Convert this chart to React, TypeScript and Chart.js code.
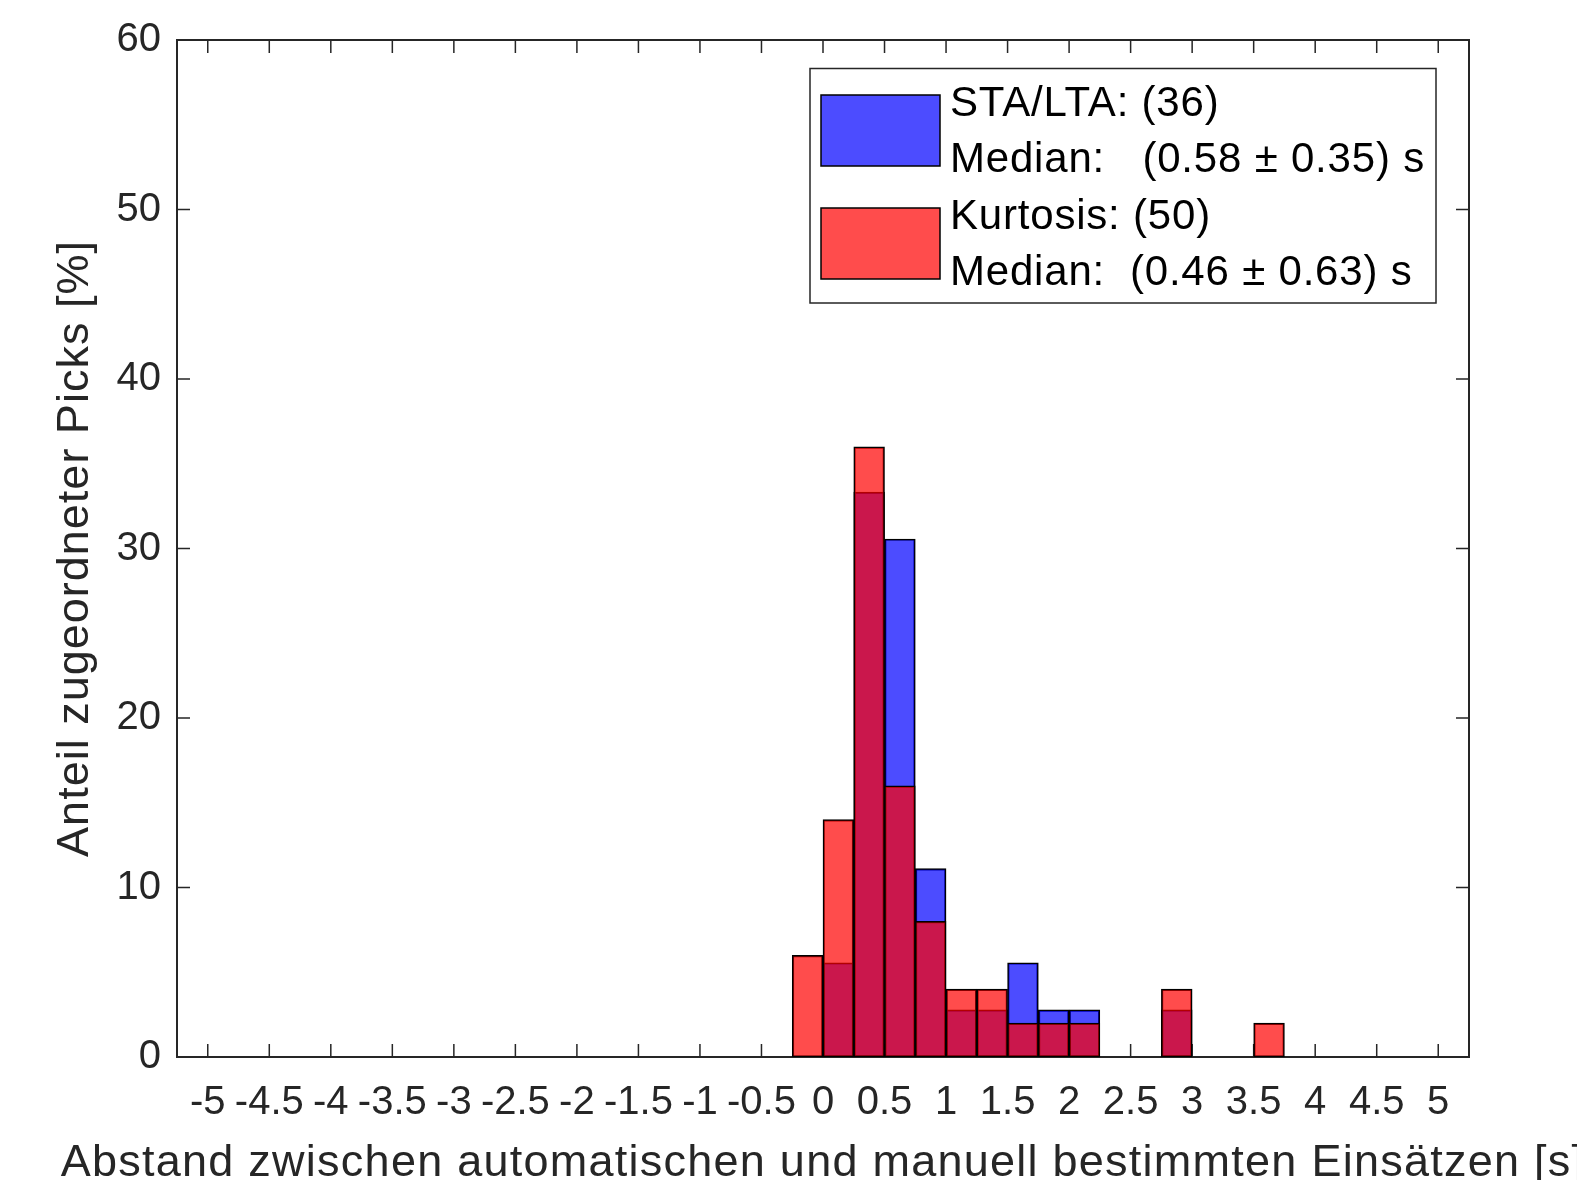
import React, { useEffect, useRef } from 'react';
import { Chart, registerables } from 'chart.js';

Chart.register(...registerables);

// ---- data ----
const binWidth = 0.25;
const binStarts = [-0.25, 0, 0.25, 0.5, 0.75, 1, 1.25, 1.5, 1.75, 2, 2.25, 2.5, 2.75, 3, 3.25, 3.5];
const staLtaPercent = [0, 5.56, 33.33, 30.56, 11.11, 2.78, 2.78, 5.56, 2.78, 2.78, 0, 0, 2.78, 0, 0, 0];
const kurtosisPercent = [6, 14, 36, 16, 8, 4, 4, 2, 2, 2, 0, 0, 4, 0, 0, 2];
const xTicks = [-5, -4.5, -4, -3.5, -3, -2.5, -2, -1.5, -1, -0.5, 0, 0.5, 1, 1.5, 2, 2.5, 3, 3.5, 4, 4.5, 5];
const yTicks = [0, 10, 20, 30, 40, 50, 60];
const staLtaLegend = ['STA/LTA: (36)', 'Median:   (0.58 \u00B1 0.35) s'];
const kurtosisLegend = ['Kurtosis: (50)', 'Median:  (0.46 \u00B1 0.63) s'];
const xTitle = 'Abstand zwischen automatischen und manuell bestimmten Einsätzen [s]';
const yTitle = 'Anteil zugeordneter Picks [%]';

const BLUE = 'rgba(0,0,255,0.7)';
const RED = 'rgba(255,0,0,0.7)';
const AXIS = '#262626';
const FONT = '"Liberation Sans", Arial, sans-serif';

const toPoints = (vals: number[]) =>
  binStarts.map((s, i) => ({ x: s + binWidth / 2, y: vals[i] > 0 ? vals[i] : null }));

const framePlugin = {
  id: 'matlabFrame',
  beforeDatasetsDraw(chart: any) {
    const { ctx, chartArea, scales } = chart;
    const { left, right, top, bottom } = chartArea;
    const x = scales.x;
    const y = scales.y;
    const tl = 13;
    ctx.save();
    ctx.strokeStyle = AXIS;
    ctx.lineWidth = 1.5;
    ctx.beginPath();
    xTicks.forEach((v) => {
      const px = x.getPixelForValue(v);
      ctx.moveTo(px, bottom);
      ctx.lineTo(px, bottom - tl);
      ctx.moveTo(px, top);
      ctx.lineTo(px, top + tl);
    });
    yTicks.forEach((v) => {
      const py = y.getPixelForValue(v);
      ctx.moveTo(left, py);
      ctx.lineTo(left + tl, py);
      ctx.moveTo(right, py);
      ctx.lineTo(right - tl, py);
    });
    ctx.stroke();
    ctx.lineWidth = 2;
    ctx.strokeRect(left, top, right - left, bottom - top);
    ctx.restore();
  },
  afterDraw(chart: any) {
    const { ctx, chartArea } = chart;
    const { left, right, top, bottom } = chartArea;
    ctx.save();
    // axis titles
    ctx.fillStyle = AXIS;
    ctx.font = `45px ${FONT}`;
    (ctx as any).letterSpacing = '1.25px';
    ctx.textAlign = 'center';
    ctx.textBaseline = 'alphabetic';
    ctx.fillText(xTitle, (left + right) / 2, 1176);
    ctx.save();
    (ctx as any).letterSpacing = '1px';
    ctx.translate(76, (top + bottom) / 2);
    ctx.rotate(-Math.PI / 2);
    ctx.textBaseline = 'middle';
    ctx.fillText(yTitle, 0, 0);
    ctx.restore();

    // legend
    const lx = right - 659;
    const ly = top + 28.5;
    const lw = 626;
    const lh = 234.5;
    ctx.fillStyle = '#fff';
    ctx.fillRect(lx, ly, lw, lh);
    ctx.strokeStyle = AXIS;
    ctx.lineWidth = 1.5;
    ctx.strokeRect(lx, ly, lw, lh);

    const entries = [
      { color: BLUE, lines: staLtaLegend, py: ly + 26.5 },
      { color: RED, lines: kurtosisLegend, py: ly + 139.5 },
    ];
    entries.forEach((e) => {
      ctx.fillStyle = '#fff';
      ctx.fillRect(lx + 11, e.py, 119, 71);
      ctx.fillStyle = e.color;
      ctx.fillRect(lx + 11, e.py, 119, 71);
      ctx.strokeStyle = '#000';
      ctx.lineWidth = 1.5;
      ctx.strokeRect(lx + 11, e.py, 119, 71);
      ctx.fillStyle = '#000';
      ctx.font = `42px ${FONT}`;
      (ctx as any).letterSpacing = '0.8px';
      ctx.textAlign = 'left';
      ctx.textBaseline = 'middle';
      ctx.fillText(e.lines[0], lx + 140, e.py + 9.5);
      ctx.fillText(e.lines[1], lx + 140, e.py + 65.5);
    });
    ctx.restore();
  },
};

export default function App() {
  const canvasRef = useRef<HTMLCanvasElement | null>(null);

  useEffect(() => {
    const canvas = canvasRef.current;
    if (!canvas) return;
    const chart = new Chart(canvas, {
      type: 'bar',
      data: {
        datasets: [
          {
            label: 'STA/LTA',
            data: toPoints(staLtaPercent) as any,
            backgroundColor: BLUE,
            borderColor: '#000',
            borderWidth: 1.5,
            borderSkipped: false,
            grouped: false,
            barPercentage: 1,
            categoryPercentage: 1,
            order: 2,
          },
          {
            label: 'Kurtosis',
            data: toPoints(kurtosisPercent) as any,
            backgroundColor: RED,
            borderColor: '#000',
            borderWidth: 1.5,
            borderSkipped: false,
            grouped: false,
            barPercentage: 1,
            categoryPercentage: 1,
            order: 1,
          },
        ],
      },
      options: {
        animation: false,
        responsive: false,
        devicePixelRatio: 1,
        layout: { padding: { top: 33, right: 108, left: 0, bottom: 0 } },
        plugins: { legend: { display: false }, tooltip: { enabled: false } },
        scales: {
          x: {
            type: 'linear',
            min: -5.25,
            max: 5.25,
            offset: false,
            grid: { display: false, drawTicks: false, offset: false },
            border: { display: false },
            afterBuildTicks: (scale: any) => {
              scale.ticks = xTicks.map((v) => ({ value: v }));
            },
            afterFit: (scale: any) => {
              scale.height = 123;
            },
            ticks: {
              autoSkip: false,
              maxRotation: 0,
              minRotation: 0,
              includeBounds: false,
              padding: 22,
              color: AXIS,
              font: { family: FONT, size: 40 },
              callback: (v: any) => String(v),
            },
          },
          y: {
            type: 'linear',
            min: 0,
            max: 60,
            grid: { display: false, drawTicks: false },
            border: { display: false },
            afterBuildTicks: (scale: any) => {
              scale.ticks = yTicks.map((v) => ({ value: v }));
            },
            afterFit: (scale: any) => {
              scale.width = 177;
            },
            ticks: {
              padding: 16,
              color: AXIS,
              font: { family: FONT, size: 40 },
              callback: (v: any) => String(v),
            },
          },
        },
      },
      plugins: [framePlugin],
    });
    return () => chart.destroy();
  }, []);

  return (
    <div style={{ position: 'fixed', left: 0, top: 0, width: 1577, height: 1180, background: '#fff' }}>
      <canvas ref={canvasRef} width={1577} height={1180} style={{ display: 'block' }} />
    </div>
  );
}
